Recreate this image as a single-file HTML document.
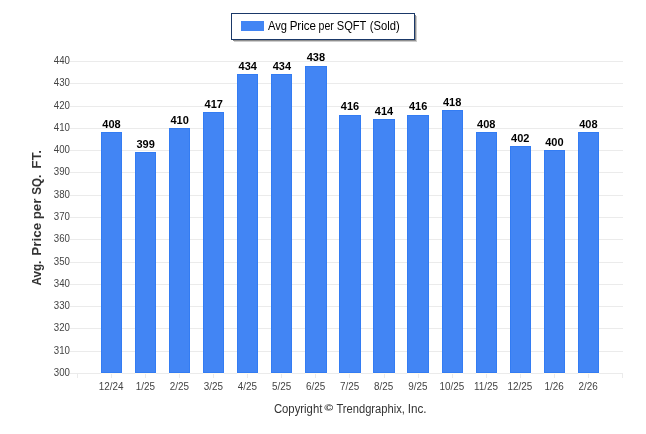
<!DOCTYPE html>
<html><head><meta charset="utf-8"><style>
html,body{margin:0;padding:0;background:#fff;}
body{width:646px;height:434px;overflow:hidden;position:relative;}
svg{position:absolute;left:0;top:0;}
text{font-family:"Liberation Sans",Arial,sans-serif;}
.yl{font-size:11px;fill:#444;}
.xl{font-size:11px;fill:#444;}
.dl{font-size:11px;font-weight:bold;fill:#000;}
.leg{font-size:12px;fill:#000;}
.yt text{font-size:13px;font-weight:bold;fill:#333;}
.cp{font-size:12px;fill:#333;}
</style></head><body>
<svg width="646" height="434" viewBox="0 0 646 434">
<rect x="234" y="16" width="183" height="26" fill="#cdcdcd"/>
<rect x="233" y="15" width="183" height="26" fill="#8e8e8e"/>
<rect x="231.5" y="13.5" width="183" height="26" fill="#fff" stroke="#1a3868" stroke-width="1"/>
<rect x="241" y="21" width="23" height="10" fill="#4285f4"/>
<text class="leg" y="30"><tspan x="267.9" textLength="19.04" lengthAdjust="spacingAndGlyphs">Avg</tspan> <tspan x="289.63" textLength="26.4" lengthAdjust="spacingAndGlyphs">Price</tspan> <tspan x="318.52" textLength="15.28" lengthAdjust="spacingAndGlyphs">per</tspan> <tspan x="336.78" textLength="29.32" lengthAdjust="spacingAndGlyphs">SQFT</tspan> <tspan x="369.66" textLength="29.99" lengthAdjust="spacingAndGlyphs">(Sold)</tspan></text>
<rect x="70" y="61" width="553" height="1" fill="#ebebeb"/>
<text class="yl" transform="translate(70,63.5) scale(0.88,1)" text-anchor="end">440</text>
<rect x="70" y="83" width="553" height="1" fill="#ebebeb"/>
<text class="yl" transform="translate(70,85.5) scale(0.88,1)" text-anchor="end">430</text>
<rect x="70" y="106" width="553" height="1" fill="#ebebeb"/>
<text class="yl" transform="translate(70,108.5) scale(0.88,1)" text-anchor="end">420</text>
<rect x="70" y="128" width="553" height="1" fill="#ebebeb"/>
<text class="yl" transform="translate(70,130.5) scale(0.88,1)" text-anchor="end">410</text>
<rect x="70" y="150" width="553" height="1" fill="#ebebeb"/>
<text class="yl" transform="translate(70,152.5) scale(0.88,1)" text-anchor="end">400</text>
<rect x="70" y="172" width="553" height="1" fill="#ebebeb"/>
<text class="yl" transform="translate(70,174.5) scale(0.88,1)" text-anchor="end">390</text>
<rect x="70" y="195" width="553" height="1" fill="#ebebeb"/>
<text class="yl" transform="translate(70,197.5) scale(0.88,1)" text-anchor="end">380</text>
<rect x="70" y="217" width="553" height="1" fill="#ebebeb"/>
<text class="yl" transform="translate(70,219.5) scale(0.88,1)" text-anchor="end">370</text>
<rect x="70" y="239" width="553" height="1" fill="#ebebeb"/>
<text class="yl" transform="translate(70,241.5) scale(0.88,1)" text-anchor="end">360</text>
<rect x="70" y="262" width="553" height="1" fill="#ebebeb"/>
<text class="yl" transform="translate(70,264.5) scale(0.88,1)" text-anchor="end">350</text>
<rect x="70" y="284" width="553" height="1" fill="#ebebeb"/>
<text class="yl" transform="translate(70,286.5) scale(0.88,1)" text-anchor="end">340</text>
<rect x="70" y="306" width="553" height="1" fill="#ebebeb"/>
<text class="yl" transform="translate(70,308.5) scale(0.88,1)" text-anchor="end">330</text>
<rect x="70" y="328" width="553" height="1" fill="#ebebeb"/>
<text class="yl" transform="translate(70,330.5) scale(0.88,1)" text-anchor="end">320</text>
<rect x="70" y="351" width="553" height="1" fill="#ebebeb"/>
<text class="yl" transform="translate(70,353.5) scale(0.88,1)" text-anchor="end">310</text>
<rect x="70" y="373" width="553" height="1" fill="#ebebeb"/>
<text class="yl" transform="translate(70,375.5) scale(0.88,1)" text-anchor="end">300</text>
<rect x="77" y="374" width="1" height="4" fill="#ebebeb"/>
<rect x="111" y="374" width="1" height="4" fill="#ebebeb"/>
<rect x="145" y="374" width="1" height="4" fill="#ebebeb"/>
<rect x="179" y="374" width="1" height="4" fill="#ebebeb"/>
<rect x="213" y="374" width="1" height="4" fill="#ebebeb"/>
<rect x="247" y="374" width="1" height="4" fill="#ebebeb"/>
<rect x="281" y="374" width="1" height="4" fill="#ebebeb"/>
<rect x="315" y="374" width="1" height="4" fill="#ebebeb"/>
<rect x="349" y="374" width="1" height="4" fill="#ebebeb"/>
<rect x="384" y="374" width="1" height="4" fill="#ebebeb"/>
<rect x="418" y="374" width="1" height="4" fill="#ebebeb"/>
<rect x="452" y="374" width="1" height="4" fill="#ebebeb"/>
<rect x="486" y="374" width="1" height="4" fill="#ebebeb"/>
<rect x="520" y="374" width="1" height="4" fill="#ebebeb"/>
<rect x="554" y="374" width="1" height="4" fill="#ebebeb"/>
<rect x="588" y="374" width="1" height="4" fill="#ebebeb"/>
<rect x="622" y="374" width="1" height="4" fill="#ebebeb"/>
<rect x="101" y="132" width="21" height="241" fill="#337cf3"/>
<rect x="102" y="133" width="19" height="239" fill="#4285f4"/>
<rect x="101" y="373" width="21" height="1" fill="#fffaf0"/>
<text class="dl" x="111.53" y="128" text-anchor="middle">408</text>
<text class="xl" transform="translate(111.23,390) scale(0.9,1)" text-anchor="middle">12/24</text>
<rect x="135" y="152" width="21" height="221" fill="#337cf3"/>
<rect x="136" y="153" width="19" height="219" fill="#4285f4"/>
<rect x="135" y="373" width="21" height="1" fill="#fffaf0"/>
<text class="dl" x="145.59" y="148" text-anchor="middle">399</text>
<text class="xl" transform="translate(145.29,390) scale(0.9,1)" text-anchor="middle">1/25</text>
<rect x="169" y="128" width="21" height="245" fill="#337cf3"/>
<rect x="170" y="129" width="19" height="243" fill="#4285f4"/>
<rect x="169" y="373" width="21" height="1" fill="#fffaf0"/>
<text class="dl" x="179.65" y="124" text-anchor="middle">410</text>
<text class="xl" transform="translate(179.35,390) scale(0.9,1)" text-anchor="middle">2/25</text>
<rect x="203" y="112" width="21" height="261" fill="#337cf3"/>
<rect x="204" y="113" width="19" height="259" fill="#4285f4"/>
<rect x="203" y="373" width="21" height="1" fill="#fffaf0"/>
<text class="dl" x="213.71" y="108" text-anchor="middle">417</text>
<text class="xl" transform="translate(213.41,390) scale(0.9,1)" text-anchor="middle">3/25</text>
<rect x="237" y="74" width="21" height="299" fill="#337cf3"/>
<rect x="238" y="75" width="19" height="297" fill="#4285f4"/>
<rect x="237" y="373" width="21" height="1" fill="#fffaf0"/>
<text class="dl" x="247.78" y="70" text-anchor="middle">434</text>
<text class="xl" transform="translate(247.47,390) scale(0.9,1)" text-anchor="middle">4/25</text>
<rect x="271" y="74" width="21" height="299" fill="#337cf3"/>
<rect x="272" y="75" width="19" height="297" fill="#4285f4"/>
<rect x="271" y="373" width="21" height="1" fill="#fffaf0"/>
<text class="dl" x="281.84" y="70" text-anchor="middle">434</text>
<text class="xl" transform="translate(281.54,390) scale(0.9,1)" text-anchor="middle">5/25</text>
<rect x="305" y="66" width="22" height="307" fill="#337cf3"/>
<rect x="306" y="67" width="20" height="305" fill="#4285f4"/>
<rect x="305" y="373" width="22" height="1" fill="#fffaf0"/>
<text class="dl" x="315.90" y="61" text-anchor="middle">438</text>
<text class="xl" transform="translate(315.60,390) scale(0.9,1)" text-anchor="middle">6/25</text>
<rect x="339" y="115" width="22" height="258" fill="#337cf3"/>
<rect x="340" y="116" width="20" height="256" fill="#4285f4"/>
<rect x="339" y="373" width="22" height="1" fill="#fffaf0"/>
<text class="dl" x="349.96" y="110" text-anchor="middle">416</text>
<text class="xl" transform="translate(349.66,390) scale(0.9,1)" text-anchor="middle">7/25</text>
<rect x="373" y="119" width="22" height="254" fill="#337cf3"/>
<rect x="374" y="120" width="20" height="252" fill="#4285f4"/>
<rect x="373" y="373" width="22" height="1" fill="#fffaf0"/>
<text class="dl" x="384.02" y="115" text-anchor="middle">414</text>
<text class="xl" transform="translate(383.72,390) scale(0.9,1)" text-anchor="middle">8/25</text>
<rect x="407" y="115" width="22" height="258" fill="#337cf3"/>
<rect x="408" y="116" width="20" height="256" fill="#4285f4"/>
<rect x="407" y="373" width="22" height="1" fill="#fffaf0"/>
<text class="dl" x="418.09" y="110" text-anchor="middle">416</text>
<text class="xl" transform="translate(417.79,390) scale(0.9,1)" text-anchor="middle">9/25</text>
<rect x="442" y="110" width="21" height="263" fill="#337cf3"/>
<rect x="443" y="111" width="19" height="261" fill="#4285f4"/>
<rect x="442" y="373" width="21" height="1" fill="#fffaf0"/>
<text class="dl" x="452.15" y="106" text-anchor="middle">418</text>
<text class="xl" transform="translate(451.85,390) scale(0.9,1)" text-anchor="middle">10/25</text>
<rect x="476" y="132" width="21" height="241" fill="#337cf3"/>
<rect x="477" y="133" width="19" height="239" fill="#4285f4"/>
<rect x="476" y="373" width="21" height="1" fill="#fffaf0"/>
<text class="dl" x="486.21" y="128" text-anchor="middle">408</text>
<text class="xl" transform="translate(485.91,390) scale(0.9,1)" text-anchor="middle">11/25</text>
<rect x="510" y="146" width="21" height="227" fill="#337cf3"/>
<rect x="511" y="147" width="19" height="225" fill="#4285f4"/>
<rect x="510" y="373" width="21" height="1" fill="#fffaf0"/>
<text class="dl" x="520.27" y="142" text-anchor="middle">402</text>
<text class="xl" transform="translate(519.98,390) scale(0.9,1)" text-anchor="middle">12/25</text>
<rect x="544" y="150" width="21" height="223" fill="#337cf3"/>
<rect x="545" y="151" width="19" height="221" fill="#4285f4"/>
<rect x="544" y="373" width="21" height="1" fill="#fffaf0"/>
<text class="dl" x="554.34" y="146" text-anchor="middle">400</text>
<text class="xl" transform="translate(554.04,390) scale(0.9,1)" text-anchor="middle">1/26</text>
<rect x="578" y="132" width="21" height="241" fill="#337cf3"/>
<rect x="579" y="133" width="19" height="239" fill="#4285f4"/>
<rect x="578" y="373" width="21" height="1" fill="#fffaf0"/>
<text class="dl" x="588.40" y="128" text-anchor="middle">408</text>
<text class="xl" transform="translate(588.10,390) scale(0.9,1)" text-anchor="middle">2/26</text>
<g class="yt"><text transform="translate(41,285.6) rotate(-90)" textLength="24.93" lengthAdjust="spacingAndGlyphs">Avg.</text><text transform="translate(41,255.84) rotate(-90)" textLength="32.98" lengthAdjust="spacingAndGlyphs">Price</text><text transform="translate(41,219.32) rotate(-90)" textLength="20.66" lengthAdjust="spacingAndGlyphs">per</text><text transform="translate(41,194.7) rotate(-90)" textLength="20.06" lengthAdjust="spacingAndGlyphs">SQ.</text><text transform="translate(41,168.64) rotate(-90)" textLength="18.74" lengthAdjust="spacingAndGlyphs">FT.</text></g>
<text class="cp" x="273.9" y="413" textLength="48.44" lengthAdjust="spacingAndGlyphs">Copyright</text>
<text class="cp" transform="translate(324.3,411) scale(1.02,0.8)" style="font-size:12px;font-weight:bold;fill:#333">©</text>
<text class="cp" y="413"><tspan x="336.4" textLength="68.45" lengthAdjust="spacingAndGlyphs">Trendgraphix,</tspan> <tspan x="407.72" textLength="18.89" lengthAdjust="spacingAndGlyphs">Inc.</tspan></text>
</svg>
</body></html>
